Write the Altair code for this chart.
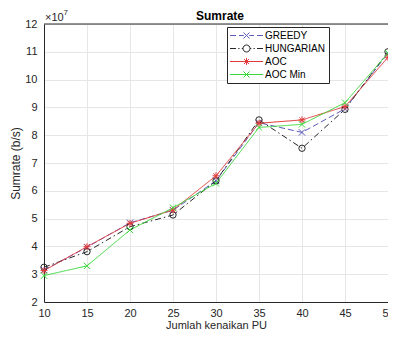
import altair as alt
import pandas as pd

# Data (values in units of 1e7 b/s)
pu = [10, 15, 20, 25, 30, 35, 40, 45, 50]
greedy = [3.15, 3.97, 4.85, 5.30, 6.36, 8.45, 8.10, 8.95, 10.95]
hungarian = [3.25, 3.81, 4.71, 5.13, 6.36, 8.55, 7.53, 8.93, 11.00]
aoc = [3.13, 3.99, 4.83, 5.31, 6.54, 8.43, 8.55, 9.03, 10.80]
aoc_min = [2.95, 3.30, 4.59, 5.39, 6.27, 8.28, 8.39, 9.17, 10.95]

series_names = ["GREEDY", "HUNGARIAN", "AOC", "AOC Min"]
series_values = [greedy, hungarian, aoc, aoc_min]
colors = ["#5b5bc0", "#262626", "#e23a3a", "#3ad83a"]
dashes = [[6, 3], [6, 3, 1.5, 3], [1, 0], [1, 0]]

X_PATH = "M-1,-1L1,1M-1,1L1,-1"
STAR_PATH = "M-1.1,0L1.1,0M0,-1.1L0,1.1M-0.8,-0.8L0.8,0.8M-0.8,0.8L0.8,-0.8"
shapes = [X_PATH, "circle", STAR_PATH, X_PATH]

leg_shapes = [
    "M-3.3,0L-2.1,0M-1.5,0L-0.55,0M0.55,0L1.5,0M2.1,0L3.3,0M-0.6,-0.6L0.6,0.6M-0.6,0.6L0.6,-0.6",
    "M-3.3,0L-2.1,0M-1.65,0L-1.4,0M-0.95,0L-0.7,0M0.7,0A0.7,0.7,0,1,1,-0.7,0A0.7,0.7,0,1,1,0.7,0M0.7,0L0.95,0M1.4,0L1.65,0M2.1,0L3.3,0",
    "M-3.3,0L3.3,0M0,-0.7L0,0.7M-0.5,-0.5L0.5,0.5M-0.5,0.5L0.5,-0.5",
    "M-3.3,0L3.3,0M-0.6,-0.6L0.6,0.6M-0.6,0.6L0.6,-0.6",
]

rows = []
for name, vals in zip(series_names, series_values):
    for x, v in zip(pu, vals):
        rows.append({"pu": x, "sumrate": v * 1e7, "series": name})
df = pd.DataFrame(rows)
leg_df = pd.DataFrame({"pu": [0] * 4, "sumrate": [0.0] * 4, "series": series_names})

W, H = 344, 278
FONT = "Liberation Sans"

xs = alt.X("pu:Q", scale=alt.Scale(domain=[10, 50], nice=False),
           axis=alt.Axis(values=pu, title="Jumlah kenaikan PU", grid=True, ticks=False,
                         labelPadding=5, titlePadding=1, titleFontSize=11, labelFlush=False))
ys = alt.Y("sumrate:Q", scale=alt.Scale(domain=[2e7, 12e7], nice=False, zero=False),
           axis=alt.Axis(values=[i * 1e7 for i in range(2, 13)], labelExpr="format(datum.value / 1e7, 'd')",
                         title="Sumrate (b/s)", grid=True, ticks=False, labelPadding=7, titlePadding=2))

col_scale = alt.Scale(domain=series_names, range=colors)

lines = alt.Chart(df).mark_line(strokeWidth=1).encode(
    x=xs, y=ys,
    color=alt.Color("series:N", scale=col_scale, legend=None),
    strokeDash=alt.StrokeDash("series:N", scale=alt.Scale(domain=series_names, range=dashes), legend=None),
)

points = alt.Chart(df).mark_point(filled=False, size=40, strokeWidth=1, opacity=1).encode(
    x=xs, y=ys,
    color=alt.Color("series:N", scale=col_scale, legend=None),
    shape=alt.Shape("series:N", scale=alt.Scale(domain=series_names, range=shapes), legend=None),
)

legend_layer = alt.Chart(leg_df).mark_point(filled=False, clip=True, strokeWidth=1, opacity=1).encode(
    x=xs, y=ys,
    color=alt.Color("series:N", scale=col_scale, legend=alt.Legend(title=None)),
    shape=alt.Shape("series:N", scale=alt.Scale(domain=series_names, range=leg_shapes),
                    legend=alt.Legend(title=None)),
)

top_line = alt.Chart(pd.DataFrame({"a": [0]})).mark_rule(color="#262626", strokeWidth=1).encode(
    x=alt.value(0), x2=alt.value(W), y=alt.value(0)
)

title_txt = alt.Chart(pd.DataFrame({"t": ["Sumrate"]})).mark_text(
    font=FONT, fontSize=12, fontWeight="bold", color="#000000", baseline="middle", align="center"
).encode(x=alt.value(176), y=alt.value(-8), text="t:N")

exp_txt = alt.Chart(pd.DataFrame({"t": ["\u00d710"]})).mark_text(
    font=FONT, fontSize=11, color="#262626", baseline="alphabetic", align="left"
).encode(x=alt.value(1), y=alt.value(-3), text="t:N")

exp7_txt = alt.Chart(pd.DataFrame({"t": ["7"]})).mark_text(
    font=FONT, fontSize=8, color="#262626", baseline="alphabetic", align="left"
).encode(x=alt.value(19.5), y=alt.value(-9), text="t:N")

chart = alt.layer(lines, points, legend_layer, top_line, title_txt, exp_txt, exp7_txt).resolve_scale(
    color="independent", shape="independent", strokeDash="independent"
).properties(
    width=W, height=H,
    autosize=alt.AutoSizeParams(type="none"),
    padding={"left": 36, "top": 16, "right": 0, "bottom": 28},
).configure_view(stroke=None).configure_axis(
    labelFont=FONT, titleFont=FONT, labelFontSize=11, titleFontSize=12,
    labelColor="#262626", titleColor="#262626", titleFontWeight="normal",
    domainColor="#262626", gridColor="#e6e6e6", gridWidth=1,
).configure_legend(
    orient="none", legendX=183, legendY=3,
    fillColor="#ffffff", strokeColor="#262626", padding=3, cornerRadius=0,
    labelFont=FONT, labelFontSize=10, labelColor="#000000",
    symbolSize=100, symbolStrokeWidth=1, symbolOffset=11, labelOffset=13,
    rowPadding=2, symbolType="circle",
)

chart.save("out.html", embed_options={"renderer": "svg", "actions": False})
